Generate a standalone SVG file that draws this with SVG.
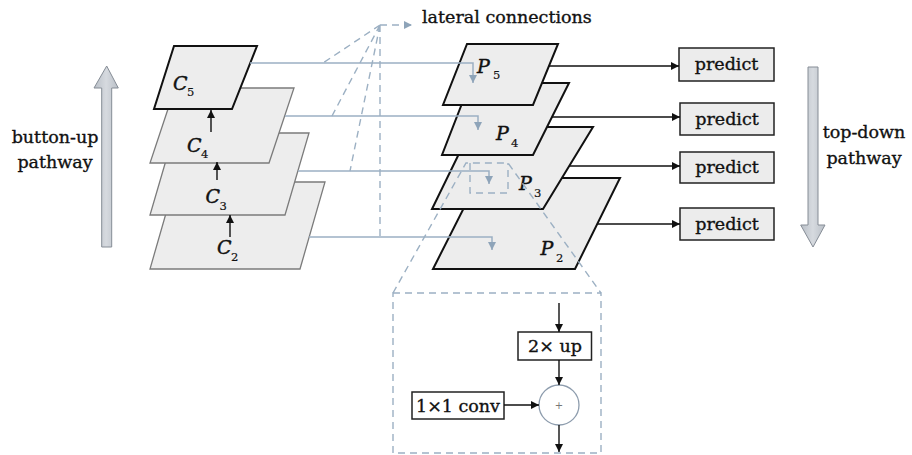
<svg xmlns="http://www.w3.org/2000/svg" width="912" height="455" viewBox="0 0 912 455">
  <style>
    .txt { font-family: "DejaVu Serif", "Liberation Serif", serif; font-size: 17.5px; fill: #111; stroke: #111; stroke-width: 0.35; }
    .lbl { font-family: "DejaVu Serif", "Liberation Serif", serif; font-style: italic; font-size: 19px; fill: #111; stroke: #111; stroke-width: 0.45; }
    .sub { font-family: "DejaVu Serif", "Liberation Serif", serif; font-style: normal; font-size: 11.5px; stroke-width: 0.2; }
    .plane { fill: #ededed; stroke: #7b7b7b; stroke-width: 1.3; stroke-linejoin: miter; }
    .plane-b { fill: #ededed; stroke: #111; stroke-width: 2; stroke-linejoin: miter; }
    .box { fill: #ececec; stroke: #222; stroke-width: 1.5; }
    .wbox { fill: #fff; stroke: #222; stroke-width: 1.5; }
    .lat { fill: none; stroke: #9cb0c3; stroke-width: 1.5; }
    .dash { fill: none; stroke: #9cb0c3; stroke-width: 1.4; stroke-dasharray: 7 5; }
    .blk { fill: none; stroke: #111; stroke-width: 1.4; }
    .path-arrow { fill: url(#gradArrow); stroke: #868d96; stroke-width: 1; }
  </style>
  <defs>
    <linearGradient id="gradArrow" x1="0" y1="0" x2="1" y2="0">
      <stop offset="0" stop-color="#b9bfc7"/>
      <stop offset="0.5" stop-color="#d6dadf"/>
      <stop offset="1" stop-color="#b9bfc7"/>
    </linearGradient>
    <marker id="ahBlack" viewBox="0 0 10 10" refX="10" refY="5" markerWidth="8" markerHeight="8" markerUnits="userSpaceOnUse" orient="auto">
      <path d="M0,0 L10,5 L0,10 Z" fill="#111"/>
    </marker>
    <marker id="ahBlue" viewBox="0 0 10 10" refX="10" refY="5" markerWidth="8" markerHeight="8" markerUnits="userSpaceOnUse" orient="auto">
      <path d="M0,0 L10,5 L0,10 Z" fill="#8ea4b9"/>
    </marker>
  </defs>

  <!-- side pathway arrows -->
  <g id="bottom-up-arrow">
    <path class="path-arrow" d="M94,88 L106.7,66 L118.3,88 H111.7 V247 H101.7 V88 Z"/>
    <text class="txt" x="55" y="143" text-anchor="middle">button-up</text>
    <text class="txt" x="55" y="168" text-anchor="middle">pathway</text>
  </g>
  <g id="top-down-arrow">
    <path class="path-arrow" d="M808,67 H818 V225 H825 L813,247 L800.7,225 H808 Z"/>
    <text class="txt" x="864" y="138" text-anchor="middle">top-down</text>
    <text class="txt" x="864" y="164" text-anchor="middle">pathway</text>
  </g>

  <!-- bottom-up feature maps -->
  <g id="C2">
    <polygon class="plane" points="175,182 325,182 300,269 150,269"/>
    <text class="lbl" x="217" y="254">C<tspan class="sub" x="231" y="261">2</tspan></text>
  </g>
  <g id="C3">
    <polygon class="plane" points="174,133 309,133 285,215 150,215"/>
    <text class="lbl" x="205.5" y="203">C<tspan class="sub" x="219.5" y="210">3</tspan></text>
  </g>
  <g id="C4">
    <polygon class="plane" points="175,88 294,88 269,163 150,163"/>
    <text class="lbl" x="187" y="151.5">C<tspan class="sub" x="201" y="157.5">4</tspan></text>
  </g>
  <g id="C5">
    <polygon class="plane-b" points="174,46 257,46 232,109 154,109"/>
    <text class="lbl" x="173" y="90">C<tspan class="sub" x="187" y="96">5</tspan></text>
  </g>

  <!-- top-down feature maps -->
  <g id="P2">
    <polygon class="plane-b" points="479,178 620,178 575,269 433,269"/>
    <text class="lbl" x="540.5" y="255">P<tspan class="sub" x="556" y="262">2</tspan></text>
  </g>
  <g id="P3">
    <polygon class="plane-b" points="472,127 593,127 543,209 432,209"/>
    <text class="lbl" x="519" y="190">P<tspan class="sub" x="534" y="197">3</tspan></text>
  </g>
  <g id="P4">
    <polygon class="plane-b" points="470,83 569,83 533,155 442,155"/>
    <text class="lbl" x="496" y="140">P<tspan class="sub" x="511" y="147">4</tspan></text>
  </g>
  <g id="P5">
    <polygon class="plane-b" points="467,44 558,44 533,105 443,105"/>
    <text class="lbl" x="477" y="73">P<tspan class="sub" x="493" y="79">5</tspan></text>
  </g>

  <!-- prediction heads -->
  <g id="predict5">
    <rect class="box" x="679" y="48" width="95" height="33"/>
    <text class="txt" x="726.5" y="70" text-anchor="middle">predict</text>
  </g>
  <g id="predict4">
    <rect class="box" x="680" y="103" width="94" height="32"/>
    <text class="txt" x="727" y="124.5" text-anchor="middle">predict</text>
  </g>
  <g id="predict3">
    <rect class="box" x="680" y="152" width="94" height="31"/>
    <text class="txt" x="727" y="173" text-anchor="middle">predict</text>
  </g>
  <g id="predict2">
    <rect class="box" x="680" y="208" width="94" height="32"/>
    <text class="txt" x="727" y="229.5" text-anchor="middle">predict</text>
  </g>

  <!-- lateral connections label -->
  <g id="lateral-label">
    <text class="txt" x="422" y="23">lateral connections</text>
  </g>

  <!-- merge block detail -->
  <g id="detail-frame">
    <rect class="dash" x="393" y="293" width="208" height="160"/>
  </g>
  <g id="upsample">
    <rect class="wbox" x="518" y="332" width="73.5" height="28"/>
    <text class="txt" x="555" y="352" text-anchor="middle">2× up</text>
  </g>
  <g id="conv1x1">
    <rect class="wbox" x="412" y="392" width="92" height="27"/>
    <text class="txt" x="458" y="411.5" text-anchor="middle">1×1 conv</text>
  </g>
  <g id="add">
    <circle cx="559" cy="405" r="20" fill="#fff" stroke="#8d9cad" stroke-width="1.3"/>
    <text x="559" y="409" text-anchor="middle" font-family="DejaVu Sans, sans-serif" font-size="10" fill="#777">+</text>
  </g>

  <g id="connectors">
    <!-- bottom-up steps -->
    <line class="blk" x1="211" y1="132" x2="211" y2="110" marker-end="url(#ahBlack)"/>
    <line class="blk" x1="217" y1="180" x2="217" y2="162" marker-end="url(#ahBlack)"/>
    <line class="blk" x1="230" y1="237" x2="230" y2="215" marker-end="url(#ahBlack)"/>

    <!-- lateral links -->
    <path class="lat" d="M250,63 H473 V83" marker-end="url(#ahBlue)"/>
    <path class="lat" d="M285,116 H478 V130" marker-end="url(#ahBlue)"/>
    <path class="lat" d="M298,171 H489 V184" marker-end="url(#ahBlue)"/>
    <path class="lat" d="M309,237 H492 V250" marker-end="url(#ahBlue)"/>

    <!-- label fan -->
    <path class="dash" d="M380,25 L323,63 M380,25 L332,116 M380,25 L350,171 M380,25 L380,237"/>
    <path class="dash" d="M380,25 H412" marker-end="url(#ahBlue)"/>

    <!-- zoom outline -->
    <path class="dash" d="M393,293 L466,163 H508 L601,293"/>
    <path class="dash" d="M470,163 V193 H508 V163"/>

    <!-- heads -->
    <line class="blk" x1="549" y1="66" x2="679" y2="66" marker-end="url(#ahBlack)"/>
    <line class="blk" x1="552" y1="117" x2="680" y2="117" marker-end="url(#ahBlack)"/>
    <line class="blk" x1="569" y1="166" x2="680" y2="166" marker-end="url(#ahBlack)"/>
    <line class="blk" x1="597" y1="224" x2="680" y2="224" marker-end="url(#ahBlack)"/>

    <!-- merge block flow -->
    <line class="blk" x1="559" y1="303" x2="559" y2="332" marker-end="url(#ahBlack)"/>
    <line class="blk" x1="559" y1="360" x2="559" y2="385" marker-end="url(#ahBlack)"/>
    <line class="blk" x1="504" y1="405" x2="539" y2="405" marker-end="url(#ahBlack)"/>
    <line class="blk" x1="559" y1="425" x2="559" y2="452" marker-end="url(#ahBlack)"/>
  </g>
</svg>
